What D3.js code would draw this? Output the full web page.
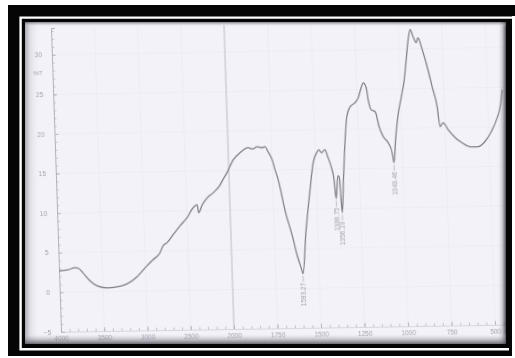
<!DOCTYPE html>
<html>
<head>
<meta charset="utf-8">
<script src="https://cdn.jsdelivr.net/npm/d3@7"></script>
<style>
  html, body { margin: 0; padding: 0; background: #ffffff; }
  svg { display: block; }
  text { font-family: "Liberation Sans", Arial, sans-serif; }
</style>
</head>
<body>
<svg id="chart" width="515" height="358"></svg>
<script>
// FTIR transmittance spectrum (wavenumber in cm-1, %T)
const wavenumbers = [
  4000, 3896, 3815, 3768, 3724, 3646, 3566, 3452, 3336, 3219,
  3101, 2981, 2910, 2826, 2788, 2741, 2668, 2584, 2500, 2427,
  2379, 2364, 2320, 2260, 2188, 2105, 2072, 2024, 1972, 1932,
  1885, 1860, 1833, 1805, 1787, 1771, 1749, 1734, 1718, 1684,
  1645, 1624, 1598, 1593.27, 1569, 1537, 1514, 1492, 1478, 1464,
  1444, 1429, 1411, 1397, 1388.75, 1374, 1366, 1356.19, 1343, 1326,
  1312, 1291, 1262, 1243, 1224, 1212, 1195, 1186, 1171, 1148,
  1128, 1106, 1079, 1058, 1049.46, 1036, 1017, 996, 975, 960,
  945, 932, 916, 899, 889, 866, 841, 816, 791, 778,
  760, 732, 693, 656, 609, 563, 524, 485, 448, 429, 414
];
const transmittance = [
  2.70, 2.82, 3.05, 2.92, 2.40, 1.38, 0.73, 0.45, 0.57, 0.92,
  1.79, 3.16, 3.90, 4.78, 5.65, 6.03, 7.03, 8.15, 9.15, 10.40,
  10.77, 9.75, 10.75, 11.63, 12.25, 13.24, 13.87, 14.71, 16.38, 17.25,
  17.87, 17.70, 17.97, 17.84, 17.96, 17.32, 16.30, 15.02, 13.76, 9.83,
  6.41, 4.25, 2.21, 1.83, 7.01, 12.43, 15.83, 17.10, 17.46, 17.08,
  17.45, 16.57, 15.29, 13.65, 11.25, 14.14, 13.89, 9.46, 13.63, 18.68,
  21.58, 22.83, 23.34, 23.96, 25.22, 25.84, 25.21, 23.69, 22.42, 22.15,
  20.26, 18.98, 18.21, 16.94, 15.67, 18.57, 21.73, 23.87, 26.14, 28.66,
  31.19, 32.45, 31.55, 30.79, 31.42, 29.90, 27.74, 25.20, 22.64, 20.13,
  20.63, 19.74, 18.71, 18.07, 17.54, 17.53, 18.14, 19.40, 21.15, 22.53, 24.68
];

// Labelled absorption bands
const peakWavenumbers = [1593.27, 1388.75, 1356.19, 1049.46];
const peakTransmittance = [1.83, 11.25, 9.46, 15.67];

// Axis ticks
const xTickValues = [4000, 3500, 3000, 2500, 2000, 1750, 1500, 1250, 1000, 750, 500];
const yTickValues = [-5, 0, 5, 10, 15, 20, 25, 30];
const yAxisTitle = "%T";

const svg = d3.select("#chart");
const defs = svg.append("defs");

// ---- mount / frame ----
svg.append("rect").attr("x", 8).attr("y", 5).attr("width", 504).attr("height", 351).attr("fill", "#050505");
svg.append("rect").attr("x", 8).attr("y", 5).attr("width", 507).attr("height", 11).attr("fill", "#050505");
svg.append("path")
  .attr("d", "M509,349.2 H20.6 V17.6 H515")
  .attr("fill", "none").attr("stroke", "#ffffff").attr("stroke-width", 2.4);

const paper = { x: 25, y: 22, w: 481, h: 322 };
defs.append("clipPath").attr("id", "paperClip")
  .append("rect").attr("x", paper.x).attr("y", paper.y).attr("width", paper.w).attr("height", paper.h);

svg.append("rect")
  .attr("x", paper.x).attr("y", paper.y).attr("width", paper.w).attr("height", paper.h)
  .attr("fill", "#f4f2f9");

// soft blur for printed ink
const blur = defs.append("filter").attr("id", "soft").attr("x", "-5%").attr("y", "-5%").attr("width", "110%").attr("height", "110%");
blur.append("feGaussianBlur").attr("stdDeviation", 0.5);

// ---- scales (compressed scale above 2000 cm-1) ----
const x = d3.scaleLinear().domain([4000, 2000, 400]).range([61, 234, 512.4]);
const y = d3.scaleLinear().domain([-5, 33.4]).range([331.8, 27.9]);

const plot = svg.append("g").attr("clip-path", "url(#paperClip)")
  .append("g")
  .attr("transform", "translate(59,331) matrix(1,-0.016,0.033,1,0,0) translate(-59,-331)")
  .attr("filter", "url(#soft)");

// faint chart-paper grid
plot.append("g").selectAll("line.vg").data(xTickValues.filter(d => d !== 2000 && d !== 4000)).join("line")
  .attr("x1", d => x(d)).attr("x2", d => x(d))
  .attr("y1", y(33.4)).attr("y2", y(-5))
  .attr("stroke", "#eae8f1").attr("stroke-width", 0.8);
plot.append("g").selectAll("line.hg").data(yTickValues.filter(d => d !== -5)).join("line")
  .attr("x1", x(4000)).attr("x2", x(400))
  .attr("y1", d => y(d)).attr("y2", d => y(d))
  .attr("stroke", "#ebe9f2").attr("stroke-width", 0.8);

// scale break line at 2000 cm-1
plot.append("line")
  .attr("x1", x(2000)).attr("x2", x(2000))
  .attr("y1", y(33.4)).attr("y2", y(-5))
  .attr("stroke", "#bdbbc5").attr("stroke-width", 1);

const axisColor = "#b2b0ba";
const textColor = "#a09ea8";

// x axis: minor and major ticks pointing up
const minorX = d3.range(4000, 2000, -100).concat(d3.range(2000, 400, -50));
const xMinor = plot.append("g").attr("transform", `translate(0,${y(-5)})`)
  .call(d3.axisBottom(x).tickValues(minorX).tickSize(-2.5).tickFormat(""));
const xMajor = plot.append("g").attr("transform", `translate(0,${y(-5)})`)
  .call(d3.axisBottom(x).tickValues(xTickValues).tickSize(-4).tickPadding(4).tickFormat(d3.format("d")));
[xMinor, xMajor].forEach(g => {
  g.select(".domain").attr("stroke", "#d6d4de").attr("stroke-width", 0.8);
  g.selectAll(".tick line").attr("stroke", axisColor).attr("stroke-width", 0.8);
});
xMajor.selectAll(".tick text").attr("fill", textColor).attr("font-size", 6.5);

// y axis: ticks pointing inward
const minorY = d3.range(-5, 34, 1);
const yMinor = plot.append("g").attr("transform", `translate(${x(4000)},0)`)
  .call(d3.axisLeft(y).tickValues(minorY).tickSize(-2.5).tickFormat(""));
const yMajor = plot.append("g").attr("transform", `translate(${x(4000)},0)`)
  .call(d3.axisLeft(y).tickValues(yTickValues).tickSize(-4).tickPadding(10).tickFormat(d3.format("d")));
[yMinor, yMajor].forEach(g => {
  g.select(".domain").attr("stroke", axisColor).attr("stroke-width", 1);
  g.selectAll(".tick line").attr("stroke", axisColor).attr("stroke-width", 0.8);
});
yMajor.selectAll(".tick text").attr("fill", textColor).attr("font-size", 6.5);

plot.append("text")
  .attr("x", x(4000) - 10).attr("y", y(27.7)).attr("dy", "0.35em")
  .attr("text-anchor", "end").attr("fill", textColor).attr("font-size", 6)
  .text(yAxisTitle);

// spectrum trace
const points = wavenumbers.map((w, i) => [w, transmittance[i]]);
plot.append("path")
  .datum(points)
  .attr("fill", "none")
  .attr("stroke", "#807e86")
  .attr("stroke-width", 1.25)
  .attr("stroke-linejoin", "round")
  .attr("d", d3.line().x(d => x(d[0])).y(d => y(d[1])).curve(d3.curveMonotoneX));

// band labels below each minimum
const peaks = peakWavenumbers.map((w, i) => ({ w, t: peakTransmittance[i] }));
const pk = plot.append("g").selectAll("g").data(peaks).join("g");
pk.append("line")
  .attr("x1", d => x(d.w)).attr("x2", d => x(d.w))
  .attr("y1", d => y(d.t) + 2).attr("y2", d => y(d.t) + 8)
  .attr("stroke", "#aaa8b0").attr("stroke-width", 0.7);
pk.append("text")
  .attr("transform", d => `translate(${x(d.w) + 2.2},${y(d.t) + 9}) rotate(-90)`)
  .attr("text-anchor", "end")
  .attr("fill", textColor).attr("font-size", 6.5)
  .text(d => d3.format(".2f")(d.w));

// paper shading toward the edges
const shade = (id, x1, y1, x2, y2, stops) => {
  const g = defs.append("linearGradient").attr("id", id)
    .attr("x1", x1).attr("y1", y1).attr("x2", x2).attr("y2", y2);
  stops.forEach(s => g.append("stop").attr("offset", s[0]).attr("stop-color", s[1]).attr("stop-opacity", s[2]));
};
shade("shL", 0, 0, 1, 0, [[0, "#6a6872", 0.55], [0.35, "#9a98a2", 0.2], [1, "#ffffff", 0]]);
shade("shR", 0, 0, 1, 0, [[0, "#ffffff", 0], [0.6, "#6a6872", 0.35], [1, "#2a2a30", 0.85]]);
shade("shB", 0, 0, 0, 1, [[0, "#ffffff", 0], [0.5, "#8a8892", 0.35], [1, "#4a4850", 0.8]]);
shade("shT", 0, 0, 0, 1, [[0, "#3a3a40", 0.6], [1, "#ffffff", 0]]);
svg.append("rect").attr("x", paper.x).attr("y", paper.y).attr("width", 16).attr("height", paper.h).attr("fill", "url(#shL)");
svg.append("rect").attr("x", paper.x + paper.w - 9).attr("y", paper.y).attr("width", 9).attr("height", paper.h).attr("fill", "url(#shR)");
svg.append("rect").attr("x", paper.x).attr("y", paper.y + paper.h - 11).attr("width", paper.w).attr("height", 11).attr("fill", "url(#shB)");
svg.append("rect").attr("x", paper.x).attr("y", paper.y).attr("width", paper.w).attr("height", 5).attr("fill", "url(#shT)");
</script>
</body>
</html>
